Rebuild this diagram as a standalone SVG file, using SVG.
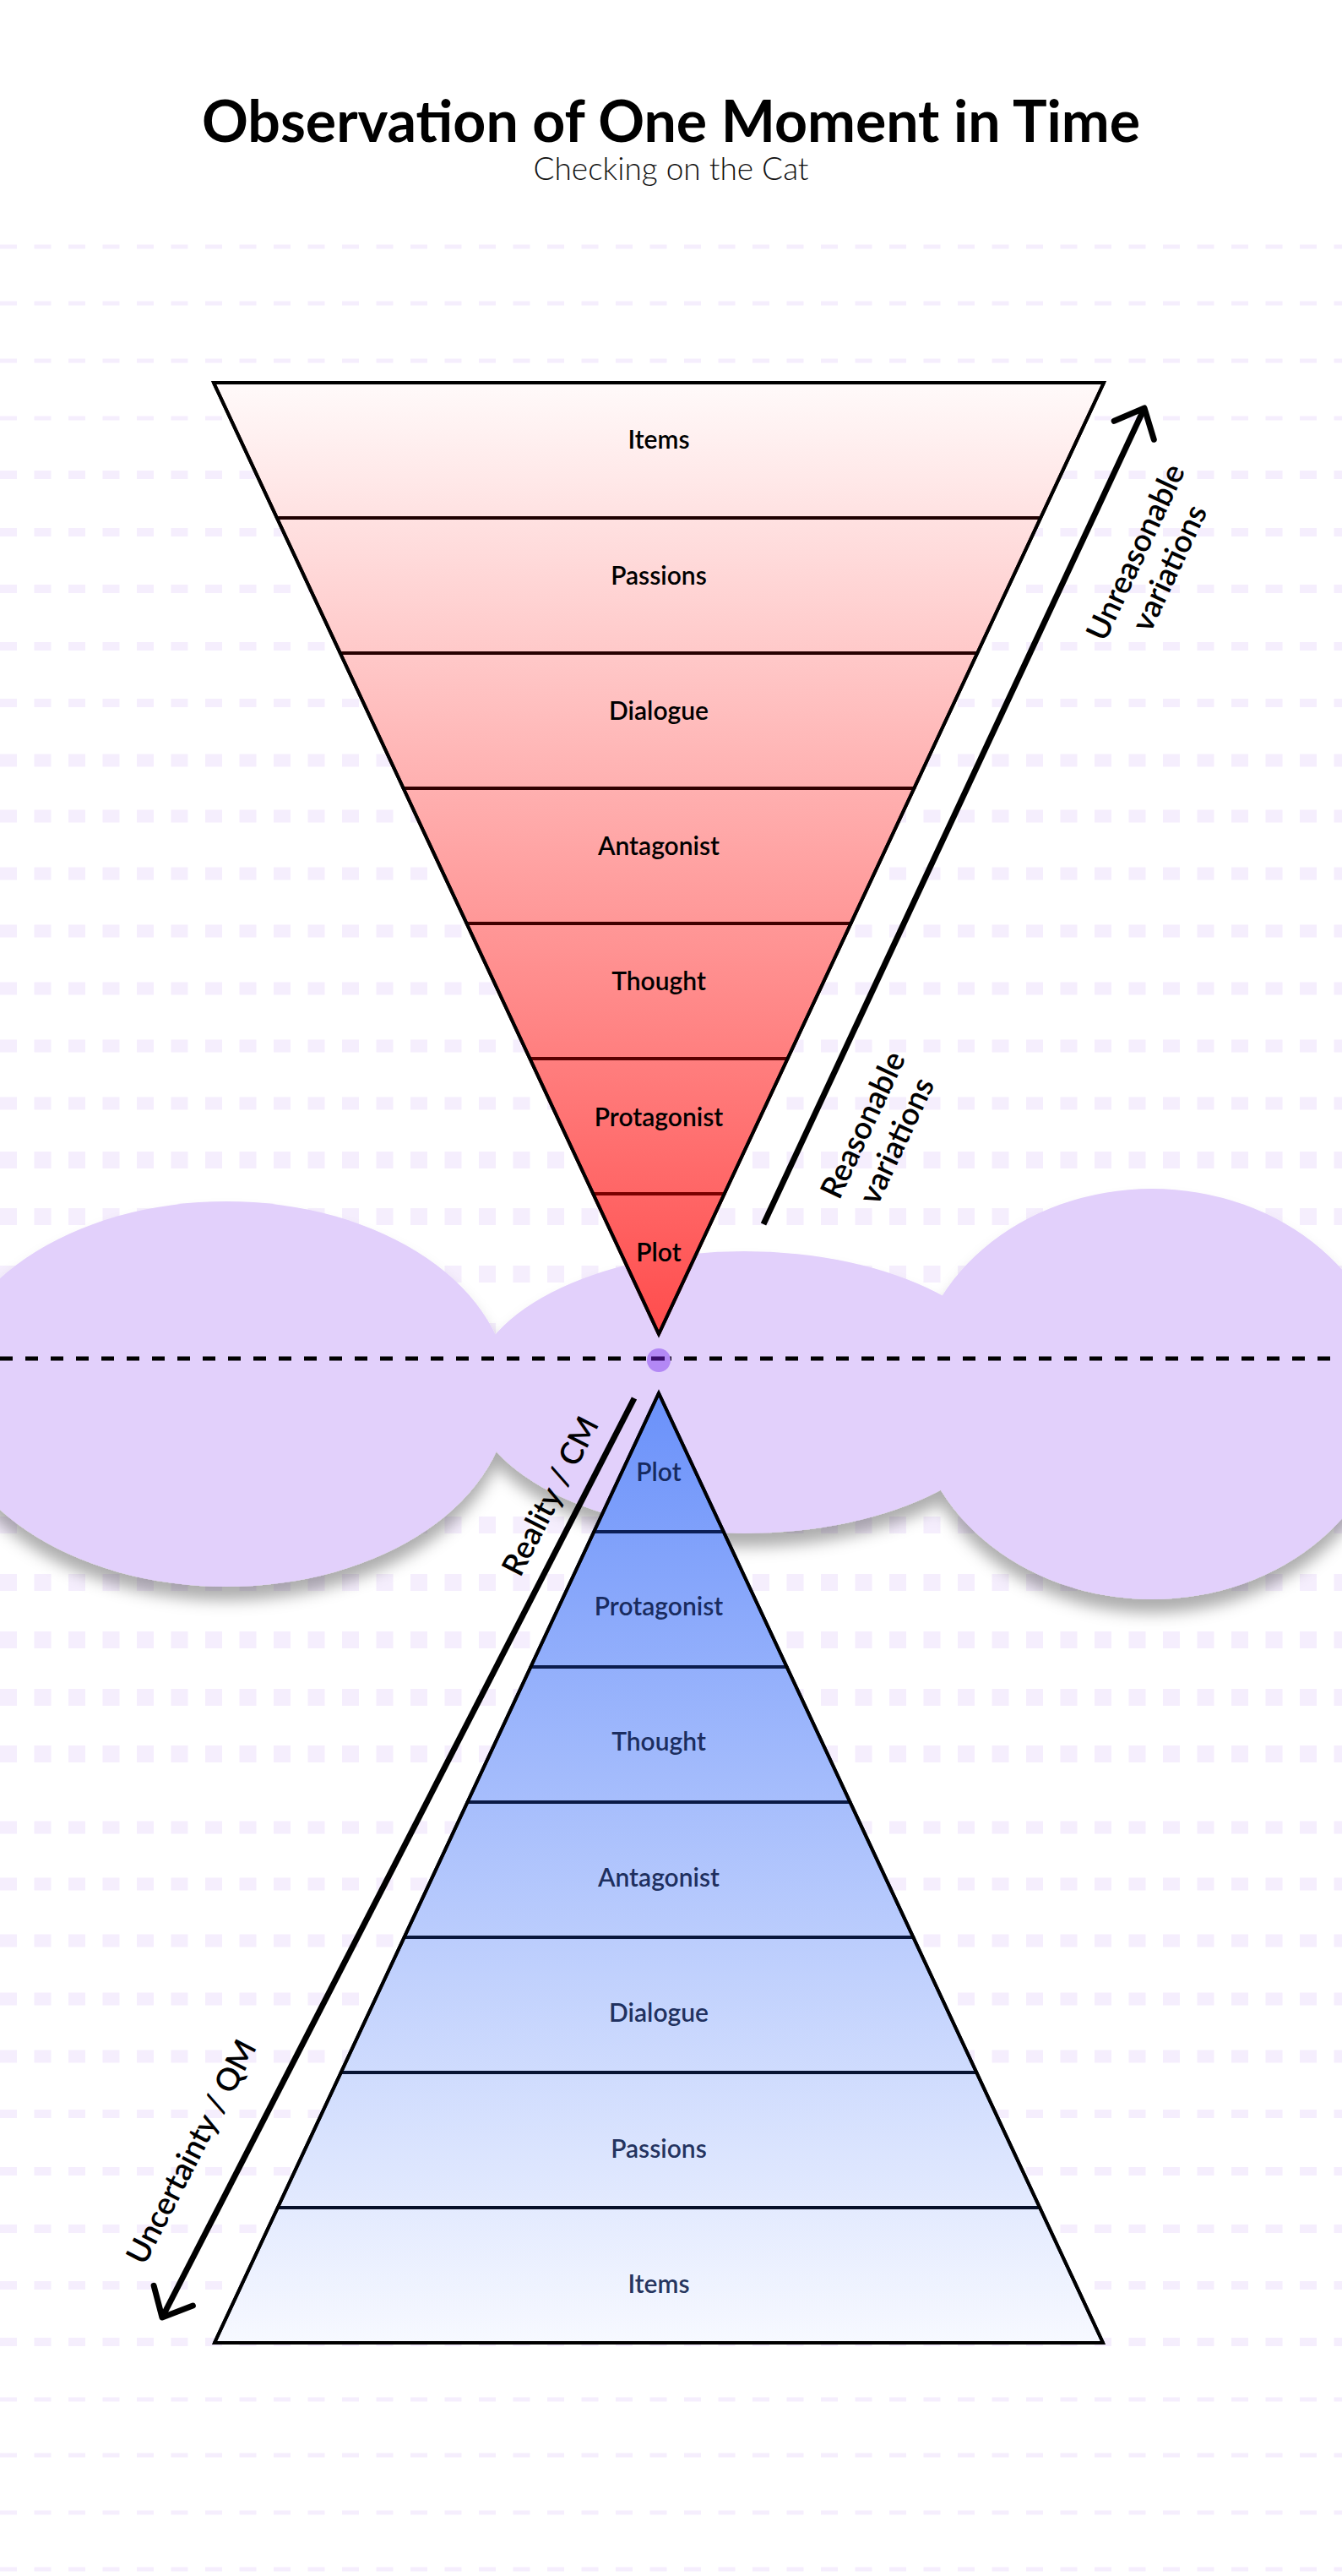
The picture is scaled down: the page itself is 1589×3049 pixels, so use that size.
<svg xmlns="http://www.w3.org/2000/svg" width="1589" height="3049" viewBox="0 0 1589 3049">
  <defs>
    <linearGradient id="gRed" gradientUnits="userSpaceOnUse" x1="0" y1="453" x2="0" y2="1579">
      <stop offset="0" stop-color="#fffafa"/>
      <stop offset="1" stop-color="#ff4c4c"/>
    </linearGradient>
    <linearGradient id="gBlue" gradientUnits="userSpaceOnUse" x1="0" y1="1649" x2="0" y2="2773">
      <stop offset="0" stop-color="#6a91fa"/>
      <stop offset="1" stop-color="#f7f9ff"/>
    </linearGradient>
    <filter id="shadow" x="-10%" y="-20%" width="120%" height="150%">
      <feDropShadow dx="0" dy="16" stdDeviation="9" flood-color="#000" flood-opacity="0.32"/>
    </filter>
    <marker id="chev" markerUnits="userSpaceOnUse" refX="0" refY="0" markerWidth="80" markerHeight="80" orient="auto" overflow="visible">
      <path d="M -29 -26 L 0 0 L -29 26" fill="none" stroke="#000" stroke-width="7" stroke-linecap="round" stroke-linejoin="round"/>
    </marker>
  </defs>
  <style>
    .bg { stroke: #f5eefd; stroke-dasharray: 20 20.5; fill: none; }
    .title { font-family: Lato, "Liberation Sans", sans-serif; font-weight: 700; font-size: 68px; fill: #000; }
    .sub { font-family: Lato, "Liberation Sans", sans-serif; font-weight: 300; font-size: 37px; fill: #111; }
    .lbl { font-family: Lato, "Liberation Sans", sans-serif; font-weight: 600; font-size: 30px; text-anchor: middle; dominant-baseline: central; }
    .red { fill: #000; }
    .blue { fill: #0a1a4a; fill-opacity: 0.9; }
    .side { font-family: Lato, "Liberation Sans", sans-serif; font-weight: 600; font-size: 37px; text-anchor: middle; dominant-baseline: central; fill: #000; }
    .layerR { fill: url(#gRed); stroke-width: 4; stroke-linejoin: round; }
    .layerB { fill: url(#gBlue); stroke-width: 4; stroke-linejoin: round; }
    .cloud { fill: #e2d0fb; }
    .arrow { fill: none; stroke: #000; stroke-width: 7; marker-end: url(#chev); }
  </style>
  <rect width="1589" height="3049" fill="#ffffff"/>
  <g id="background">
    <line class="bg" x1="0" x2="1589" y1="292" y2="292" stroke-width="5"/>
    <line class="bg" x1="0" x2="1589" y1="359" y2="359" stroke-width="5"/>
    <line class="bg" x1="0" x2="1589" y1="427" y2="427" stroke-width="5"/>
    <line class="bg" x1="0" x2="1589" y1="495" y2="495" stroke-width="5"/>
    <line class="bg" x1="0" x2="1589" y1="562" y2="562" stroke-width="10"/>
    <line class="bg" x1="0" x2="1589" y1="630" y2="630" stroke-width="10"/>
    <line class="bg" x1="0" x2="1589" y1="697" y2="697" stroke-width="10"/>
    <line class="bg" x1="0" x2="1589" y1="765" y2="765" stroke-width="10"/>
    <line class="bg" x1="0" x2="1589" y1="832" y2="832" stroke-width="10"/>
    <line class="bg" x1="0" x2="1589" y1="900" y2="900" stroke-width="15"/>
    <line class="bg" x1="0" x2="1589" y1="966" y2="966" stroke-width="15"/>
    <line class="bg" x1="0" x2="1589" y1="1034" y2="1034" stroke-width="15"/>
    <line class="bg" x1="0" x2="1589" y1="1102" y2="1102" stroke-width="15"/>
    <line class="bg" x1="0" x2="1589" y1="1170" y2="1170" stroke-width="15"/>
    <line class="bg" x1="0" x2="1589" y1="1238" y2="1238" stroke-width="15"/>
    <line class="bg" x1="0" x2="1589" y1="1306" y2="1306" stroke-width="15"/>
    <line class="bg" x1="0" x2="1589" y1="1373" y2="1373" stroke-width="20"/>
    <line class="bg" x1="0" x2="1589" y1="1440" y2="1440" stroke-width="20"/>
    <line class="bg" x1="0" x2="1589" y1="1508" y2="1508" stroke-width="20"/>
    <line class="bg" x1="0" x2="1589" y1="1576" y2="1576" stroke-width="20"/>
    <line class="bg" x1="0" x2="1589" y1="1644" y2="1644" stroke-width="20"/>
    <line class="bg" x1="0" x2="1589" y1="1711" y2="1711" stroke-width="20"/>
    <line class="bg" x1="0" x2="1589" y1="1805" y2="1805" stroke-width="20"/>
    <line class="bg" x1="0" x2="1589" y1="1873" y2="1873" stroke-width="20"/>
    <line class="bg" x1="0" x2="1589" y1="1941" y2="1941" stroke-width="20"/>
    <line class="bg" x1="0" x2="1589" y1="2009" y2="2009" stroke-width="20"/>
    <line class="bg" x1="0" x2="1589" y1="2076" y2="2076" stroke-width="20"/>
    <line class="bg" x1="0" x2="1589" y1="2163" y2="2163" stroke-width="15"/>
    <line class="bg" x1="0" x2="1589" y1="2230" y2="2230" stroke-width="15"/>
    <line class="bg" x1="0" x2="1589" y1="2297" y2="2297" stroke-width="15"/>
    <line class="bg" x1="0" x2="1589" y1="2366" y2="2366" stroke-width="15"/>
    <line class="bg" x1="0" x2="1589" y1="2434" y2="2434" stroke-width="15"/>
    <line class="bg" x1="0" x2="1589" y1="2502" y2="2502" stroke-width="10"/>
    <line class="bg" x1="0" x2="1589" y1="2570" y2="2570" stroke-width="10"/>
    <line class="bg" x1="0" x2="1589" y1="2638" y2="2638" stroke-width="10"/>
    <line class="bg" x1="0" x2="1589" y1="2705" y2="2705" stroke-width="10"/>
    <line class="bg" x1="0" x2="1589" y1="2772" y2="2772" stroke-width="10"/>
    <line class="bg" x1="0" x2="1589" y1="2840" y2="2840" stroke-width="5"/>
    <line class="bg" x1="0" x2="1589" y1="2906" y2="2906" stroke-width="5"/>
    <line class="bg" x1="0" x2="1589" y1="2974" y2="2974" stroke-width="5"/>
    <line class="bg" x1="0" x2="1589" y1="3041" y2="3041" stroke-width="5"/>
  </g>
  <g id="title">
    <text class="title" x="794.5" y="168" text-anchor="middle">Observation of One Moment in Time</text>
    <text class="sub" x="794.5" y="213" text-anchor="middle">Checking on the Cat</text>
  </g>
  <g id="cloud" filter="url(#shadow)">
    <ellipse class="cloud" cx="268" cy="1650" rx="335" ry="228"/>
    <ellipse class="cloud" cx="881" cy="1648" rx="323" ry="167"/>
    <ellipse class="cloud" cx="1364" cy="1650" rx="283" ry="243"/>
  </g>
  <g id="connectors">
    <line x1="0" y1="1608" x2="1589" y2="1608" stroke="#000" stroke-width="5" stroke-dasharray="15 15"/>
    <line class="arrow" x1="904" y1="1449" x2="1355" y2="483"/>
    <line class="arrow" x1="751" y1="1655" x2="192" y2="2743"/>
  </g>
  <g id="observation-point">
    <circle cx="780" cy="1610" r="14" fill="#b388f5"/>
    <rect x="771" y="1605.5" width="16" height="5" fill="#3b0f6e"/>
  </g>
  <g id="classical-funnel">
    <g id="top-items"><polygon class="layerR" stroke="#1a0000" points="253,453 1307,453 1232.1,613 327.9,613"/><text class="lbl red" x="780" y="519">Items</text></g>
    <g id="top-passions"><polygon class="layerR" stroke="#1f0000" points="327.9,613 1232.1,613 1157.2,773 402.8,773"/><text class="lbl red" x="780" y="680">Passions</text></g>
    <g id="top-dialogue"><polygon class="layerR" stroke="#260000" points="402.8,773 1157.2,773 1082.4,933 477.6,933"/><text class="lbl red" x="780" y="840">Dialogue</text></g>
    <g id="top-antagonist"><polygon class="layerR" stroke="#300000" points="477.6,933 1082.4,933 1007.5,1093 552.5,1093"/><text class="lbl red" x="780" y="1000">Antagonist</text></g>
    <g id="top-thought"><polygon class="layerR" stroke="#3f0000" points="552.5,1093 1007.5,1093 932.6,1253 627.4,1253"/><text class="lbl red" x="780" y="1160">Thought</text></g>
    <g id="top-protagonist"><polygon class="layerR" stroke="#5a0000" points="627.4,1253 932.6,1253 857.7,1413 702.3,1413"/><text class="lbl red" x="780" y="1321">Protagonist</text></g>
    <g id="top-plot"><polygon class="layerR" stroke="#7a0000" points="702.3,1413 857.7,1413 780,1579"/><text class="lbl red" x="780" y="1481">Plot</text></g>
    <polygon points="253,453 1307,453 780,1579" fill="none" stroke="#000" stroke-width="4" stroke-linejoin="miter"/>
  </g>
  <g id="quantum-pyramid">
    <g id="bot-plot"><polygon class="layerB" stroke="#0b2263" points="780,1649 856.75,1813 703.25,1813"/><text class="lbl blue" x="780" y="1741">Plot</text></g>
    <g id="bot-protagonist"><polygon class="layerB" stroke="#0b1f57" points="703.25,1813 856.75,1813 931.6,1973 628.4,1973"/><text class="lbl blue" x="780" y="1900">Protagonist</text></g>
    <g id="bot-thought"><polygon class="layerB" stroke="#0b1c4e" points="628.4,1973 931.6,1973 1006.5,2133 553.5,2133"/><text class="lbl blue" x="780" y="2060">Thought</text></g>
    <g id="bot-antagonist"><polygon class="layerB" stroke="#0a1a45" points="553.5,2133 1006.5,2133 1081.4,2293 478.6,2293"/><text class="lbl blue" x="780" y="2221">Antagonist</text></g>
    <g id="bot-dialogue"><polygon class="layerB" stroke="#09173c" points="478.6,2293 1081.4,2293 1156.3,2453 403.7,2453"/><text class="lbl blue" x="780" y="2381">Dialogue</text></g>
    <g id="bot-passions"><polygon class="layerB" stroke="#081433" points="403.7,2453 1156.3,2453 1231.2,2613 328.8,2613"/><text class="lbl blue" x="780" y="2542">Passions</text></g>
    <g id="bot-items"><polygon class="layerB" stroke="#06102a" points="328.8,2613 1231.2,2613 1306,2773 254,2773"/><text class="lbl blue" x="780" y="2702">Items</text></g>
    <polygon points="780,1649 1306,2773 254,2773" fill="none" stroke="#000" stroke-width="4" stroke-linejoin="miter"/>
  </g>
  <g id="labels">
    <g transform="translate(1040,1340) rotate(-64.9)">
      <text class="side" x="0" y="-22">Reasonable</text>
      <text class="side" x="0" y="22">variations</text>
    </g>
    <g transform="translate(1363,662) rotate(-64.9)">
      <text class="side" x="0" y="-22">Unreasonable</text>
      <text class="side" x="0" y="22">variations</text>
    </g>
    <text class="side" transform="translate(650,1770) rotate(-62.8)">Reality / CM</text>
    <text class="side" transform="translate(225,2546) rotate(-62.8)">Uncertainty / QM</text>
  </g>
</svg>
